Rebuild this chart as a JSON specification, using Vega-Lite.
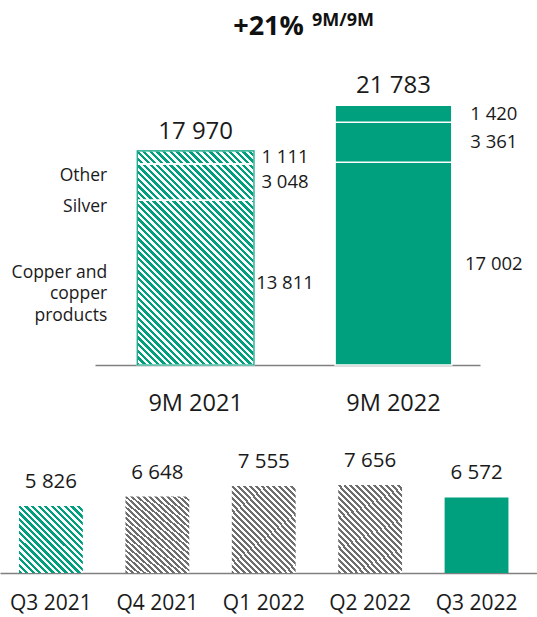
{
"$schema": "https://vega.github.io/schema/vega-lite/v6.json",
"padding": {"top": 12, "left": 0, "right": 0, "bottom": 8},
"background": "white",
"config": {
  "font": "Open Sans",
  "view": {"stroke": null},
  "locale": {"number": {"decimal": ",", "thousands": " ", "grouping": [3], "currency": ["", ""]}},
  "text": {"font": "Open Sans", "color": "#1a1a1a"},
  "axis": {"grid": false}
},
"title": {"text": "+21%", "fontSize": 27, "fontWeight": "bold", "font": "Open Sans", "color": "#111111", "anchor": "middle", "offset": 0, "dy": 29},
"spacing": 93,
"bounds": "flush",
"vconcat": [
{
  "width": 537, "height": 298,
  "title": {"text": "9M/9M", "fontSize": 18, "fontWeight": "bold", "font": "Open Sans", "color": "#111111", "anchor": "start", "frame": "group", "dx": 312, "offset": 37},
  "data": {"values": [
    {"period": "9M 2021", "seg": "Copper and copper products", "label": "Copper and\ncopper\nproducts", "order": 1, "value": 13811},
    {"period": "9M 2021", "seg": "Silver", "label": "Silver", "order": 2, "value": 3048},
    {"period": "9M 2021", "seg": "Other", "label": "Other", "order": 3, "value": 1111},
    {"period": "9M 2022", "seg": "Copper and copper products", "label": "Copper and\ncopper\nproducts", "order": 1, "value": 17002},
    {"period": "9M 2022", "seg": "Silver", "label": "Silver", "order": 2, "value": 3361},
    {"period": "9M 2022", "seg": "Other", "label": "Other", "order": 3, "value": 1420}
  ]},
  "transform": [
    {"stack": "value", "groupby": ["period"], "sort": [{"field": "order", "order": "ascending"}], "as": ["y0", "y1"]},
    {"calculate": "(datum.y0 + datum.y1) / 2", "as": "ymid"}
  ],
  "encoding": {
    "x": {"field": "period", "type": "nominal", "scale": {"domain": ["9M 2021", "9M 2022"], "range": [95, 480], "paddingInner": 0.41, "paddingOuter": 0.178, "align": 0.6},
      "axis": {"title": null, "labelAngle": 0, "ticks": false, "tickSize": 0, "labelPadding": 26, "labelFontSize": 23.5, "labelFont": "Open Sans", "labelColor": "#1a1a1a", "domainColor": "#808080", "domainWidth": 1.5}}
  },
  "layer": [
    {"transform": [{"filter": "datum.period === '9M 2021'"}, {"aggregate": [{"op": "sum", "field": "value", "as": "total"}], "groupby": ["period"]}],
     "mark": {"type": "bar", "fill": {"gradient": "linear", "x1": 0, "y1": 1, "x2": 0.649, "y2": -0.191, "stops": [
{"offset":0,"color":"#00a07f"},
{"offset":0.01,"color":"#00a07f"},{"offset":0.01,"color":"#fff"},
{"offset":0.02,"color":"#fff"},{"offset":0.02,"color":"#00a07f"},
{"offset":0.03,"color":"#00a07f"},{"offset":0.03,"color":"#fff"},
{"offset":0.04,"color":"#fff"},{"offset":0.04,"color":"#00a07f"},
{"offset":0.05,"color":"#00a07f"},{"offset":0.05,"color":"#fff"},
{"offset":0.06,"color":"#fff"},{"offset":0.06,"color":"#00a07f"},
{"offset":0.07,"color":"#00a07f"},{"offset":0.07,"color":"#fff"},
{"offset":0.08,"color":"#fff"},{"offset":0.08,"color":"#00a07f"},
{"offset":0.09,"color":"#00a07f"},{"offset":0.09,"color":"#fff"},
{"offset":0.1,"color":"#fff"},{"offset":0.1,"color":"#00a07f"},
{"offset":0.11,"color":"#00a07f"},{"offset":0.11,"color":"#fff"},
{"offset":0.12,"color":"#fff"},{"offset":0.12,"color":"#00a07f"},
{"offset":0.13,"color":"#00a07f"},{"offset":0.13,"color":"#fff"},
{"offset":0.14,"color":"#fff"},{"offset":0.14,"color":"#00a07f"},
{"offset":0.15,"color":"#00a07f"},{"offset":0.15,"color":"#fff"},
{"offset":0.16,"color":"#fff"},{"offset":0.16,"color":"#00a07f"},
{"offset":0.17,"color":"#00a07f"},{"offset":0.17,"color":"#fff"},
{"offset":0.18,"color":"#fff"},{"offset":0.18,"color":"#00a07f"},
{"offset":0.19,"color":"#00a07f"},{"offset":0.19,"color":"#fff"},
{"offset":0.2,"color":"#fff"},{"offset":0.2,"color":"#00a07f"},
{"offset":0.21,"color":"#00a07f"},{"offset":0.21,"color":"#fff"},
{"offset":0.22,"color":"#fff"},{"offset":0.22,"color":"#00a07f"},
{"offset":0.23,"color":"#00a07f"},{"offset":0.23,"color":"#fff"},
{"offset":0.24,"color":"#fff"},{"offset":0.24,"color":"#00a07f"},
{"offset":0.25,"color":"#00a07f"},{"offset":0.25,"color":"#fff"},
{"offset":0.26,"color":"#fff"},{"offset":0.26,"color":"#00a07f"},
{"offset":0.27,"color":"#00a07f"},{"offset":0.27,"color":"#fff"},
{"offset":0.28,"color":"#fff"},{"offset":0.28,"color":"#00a07f"},
{"offset":0.29,"color":"#00a07f"},{"offset":0.29,"color":"#fff"},
{"offset":0.3,"color":"#fff"},{"offset":0.3,"color":"#00a07f"},
{"offset":0.31,"color":"#00a07f"},{"offset":0.31,"color":"#fff"},
{"offset":0.32,"color":"#fff"},{"offset":0.32,"color":"#00a07f"},
{"offset":0.33,"color":"#00a07f"},{"offset":0.33,"color":"#fff"},
{"offset":0.34,"color":"#fff"},{"offset":0.34,"color":"#00a07f"},
{"offset":0.35,"color":"#00a07f"},{"offset":0.35,"color":"#fff"},
{"offset":0.36,"color":"#fff"},{"offset":0.36,"color":"#00a07f"},
{"offset":0.37,"color":"#00a07f"},{"offset":0.37,"color":"#fff"},
{"offset":0.38,"color":"#fff"},{"offset":0.38,"color":"#00a07f"},
{"offset":0.39,"color":"#00a07f"},{"offset":0.39,"color":"#fff"},
{"offset":0.4,"color":"#fff"},{"offset":0.4,"color":"#00a07f"},
{"offset":0.41,"color":"#00a07f"},{"offset":0.41,"color":"#fff"},
{"offset":0.42,"color":"#fff"},{"offset":0.42,"color":"#00a07f"},
{"offset":0.43,"color":"#00a07f"},{"offset":0.43,"color":"#fff"},
{"offset":0.44,"color":"#fff"},{"offset":0.44,"color":"#00a07f"},
{"offset":0.45,"color":"#00a07f"},{"offset":0.45,"color":"#fff"},
{"offset":0.46,"color":"#fff"},{"offset":0.46,"color":"#00a07f"},
{"offset":0.47,"color":"#00a07f"},{"offset":0.47,"color":"#fff"},
{"offset":0.48,"color":"#fff"},{"offset":0.48,"color":"#00a07f"},
{"offset":0.49,"color":"#00a07f"},{"offset":0.49,"color":"#fff"},
{"offset":0.5,"color":"#fff"},{"offset":0.5,"color":"#00a07f"},
{"offset":0.51,"color":"#00a07f"},{"offset":0.51,"color":"#fff"},
{"offset":0.52,"color":"#fff"},{"offset":0.52,"color":"#00a07f"},
{"offset":0.53,"color":"#00a07f"},{"offset":0.53,"color":"#fff"},
{"offset":0.54,"color":"#fff"},{"offset":0.54,"color":"#00a07f"},
{"offset":0.55,"color":"#00a07f"},{"offset":0.55,"color":"#fff"},
{"offset":0.56,"color":"#fff"},{"offset":0.56,"color":"#00a07f"},
{"offset":0.57,"color":"#00a07f"},{"offset":0.57,"color":"#fff"},
{"offset":0.58,"color":"#fff"},{"offset":0.58,"color":"#00a07f"},
{"offset":0.59,"color":"#00a07f"},{"offset":0.59,"color":"#fff"},
{"offset":0.6,"color":"#fff"},{"offset":0.6,"color":"#00a07f"},
{"offset":0.61,"color":"#00a07f"},{"offset":0.61,"color":"#fff"},
{"offset":0.62,"color":"#fff"},{"offset":0.62,"color":"#00a07f"},
{"offset":0.63,"color":"#00a07f"},{"offset":0.63,"color":"#fff"},
{"offset":0.64,"color":"#fff"},{"offset":0.64,"color":"#00a07f"},
{"offset":0.65,"color":"#00a07f"},{"offset":0.65,"color":"#fff"},
{"offset":0.66,"color":"#fff"},{"offset":0.66,"color":"#00a07f"},
{"offset":0.67,"color":"#00a07f"},{"offset":0.67,"color":"#fff"},
{"offset":0.68,"color":"#fff"},{"offset":0.68,"color":"#00a07f"},
{"offset":0.69,"color":"#00a07f"},{"offset":0.69,"color":"#fff"},
{"offset":0.7,"color":"#fff"},{"offset":0.7,"color":"#00a07f"},
{"offset":0.71,"color":"#00a07f"},{"offset":0.71,"color":"#fff"},
{"offset":0.72,"color":"#fff"},{"offset":0.72,"color":"#00a07f"},
{"offset":0.73,"color":"#00a07f"},{"offset":0.73,"color":"#fff"},
{"offset":0.74,"color":"#fff"},{"offset":0.74,"color":"#00a07f"},
{"offset":0.75,"color":"#00a07f"},{"offset":0.75,"color":"#fff"},
{"offset":0.76,"color":"#fff"},{"offset":0.76,"color":"#00a07f"},
{"offset":0.77,"color":"#00a07f"},{"offset":0.77,"color":"#fff"},
{"offset":0.78,"color":"#fff"},{"offset":0.78,"color":"#00a07f"},
{"offset":0.79,"color":"#00a07f"},{"offset":0.79,"color":"#fff"},
{"offset":0.8,"color":"#fff"},{"offset":0.8,"color":"#00a07f"},
{"offset":0.81,"color":"#00a07f"},{"offset":0.81,"color":"#fff"},
{"offset":0.82,"color":"#fff"},{"offset":0.82,"color":"#00a07f"},
{"offset":0.83,"color":"#00a07f"},{"offset":0.83,"color":"#fff"},
{"offset":0.84,"color":"#fff"},{"offset":0.84,"color":"#00a07f"},
{"offset":0.85,"color":"#00a07f"},{"offset":0.85,"color":"#fff"},
{"offset":0.86,"color":"#fff"},{"offset":0.86,"color":"#00a07f"},
{"offset":0.87,"color":"#00a07f"},{"offset":0.87,"color":"#fff"},
{"offset":0.88,"color":"#fff"},{"offset":0.88,"color":"#00a07f"},
{"offset":0.89,"color":"#00a07f"},{"offset":0.89,"color":"#fff"},
{"offset":0.9,"color":"#fff"},{"offset":0.9,"color":"#00a07f"},
{"offset":0.91,"color":"#00a07f"},{"offset":0.91,"color":"#fff"},
{"offset":0.92,"color":"#fff"},{"offset":0.92,"color":"#00a07f"},
{"offset":0.93,"color":"#00a07f"},{"offset":0.93,"color":"#fff"},
{"offset":0.94,"color":"#fff"},{"offset":0.94,"color":"#00a07f"},
{"offset":0.95,"color":"#00a07f"},{"offset":0.95,"color":"#fff"},
{"offset":0.96,"color":"#fff"},{"offset":0.96,"color":"#00a07f"},
{"offset":0.97,"color":"#00a07f"},{"offset":0.97,"color":"#fff"},
{"offset":0.98,"color":"#fff"},{"offset":0.98,"color":"#00a07f"},
{"offset":0.99,"color":"#00a07f"},{"offset":0.99,"color":"#fff"},
{"offset":1,"color":"#fff"}
     ]}},
     "encoding": {"y": {"field": "total", "type": "quantitative", "scale": {"domain": [0, 25000], "nice": false, "zero": true}, "axis": null}}},
    {"transform": [{"filter": "datum.period === '9M 2021'"}],
     "mark": {"type": "bar", "fill": "transparent", "stroke": "#ffffff", "strokeWidth": 1.5},
     "encoding": {"y": {"field": "y0", "type": "quantitative"}, "y2": {"field": "y1"}}},
    {"transform": [{"filter": "datum.period === '9M 2021'"}, {"aggregate": [{"op": "sum", "field": "value", "as": "total"}], "groupby": ["period"]}],
     "mark": {"type": "bar", "fill": "transparent", "stroke": "#00a07f", "strokeWidth": 1.2},
     "encoding": {"y": {"field": "total", "type": "quantitative"}}},
    {"transform": [{"filter": "datum.period === '9M 2022'"}],
     "mark": {"type": "bar", "fill": "#00a07f", "stroke": "#ffffff", "strokeWidth": 1.5},
     "encoding": {"y": {"field": "y0", "type": "quantitative"}, "y2": {"field": "y1"}}},
    {"transform": [{"filter": "datum.period === '9M 2021'"}],
     "mark": {"type": "text", "align": "center", "baseline": "middle", "dx": 31, "fontSize": 18.5},
     "encoding": {
       "x": {"field": "period", "type": "nominal", "bandPosition": 1},
       "y": {"field": "ymid", "type": "quantitative"},
       "text": {"field": "value", "type": "quantitative", "format": ",d"}}},
    {"transform": [{"filter": "datum.period === '9M 2022'"}],
     "mark": {"type": "text", "align": "center", "baseline": "middle", "dx": 42, "fontSize": 18.5},
     "encoding": {
       "x": {"field": "period", "type": "nominal", "bandPosition": 1},
       "y": {"field": "ymid", "type": "quantitative"},
       "text": {"field": "value", "type": "quantitative", "format": ",d"}}},
    {"transform": [{"aggregate": [{"op": "sum", "field": "value", "as": "total"}], "groupby": ["period"]}],
     "mark": {"type": "text", "align": "center", "baseline": "alphabetic", "dy": -12, "fontSize": 24},
     "encoding": {
       "y": {"field": "total", "type": "quantitative"},
       "text": {"field": "total", "type": "quantitative", "format": ",d"}}},
    {"transform": [{"filter": "datum.period === '9M 2021' && datum.order === 3"}],
     "mark": {"type": "text", "align": "right", "baseline": "middle", "dx": -30, "dy": 18.5, "fontSize": 17.5},
     "encoding": {
       "x": {"field": "period", "type": "nominal", "bandPosition": 0},
       "y": {"field": "ymid", "type": "quantitative"},
       "text": {"field": "label", "type": "nominal"}}},
    {"transform": [{"filter": "datum.period === '9M 2021' && datum.order === 2"}],
     "mark": {"type": "text", "align": "right", "baseline": "middle", "dx": -30, "dy": 25, "fontSize": 17.5},
     "encoding": {
       "x": {"field": "period", "type": "nominal", "bandPosition": 0},
       "y": {"field": "ymid", "type": "quantitative"},
       "text": {"field": "label", "type": "nominal"}}},
    {"transform": [{"filter": "datum.period === '9M 2021' && datum.order === 1"}],
     "mark": {"type": "text", "align": "right", "baseline": "middle", "dx": -30, "dy": -10, "fontSize": 17.5, "lineBreak": "\n", "lineHeight": 21.5},
     "encoding": {
       "x": {"field": "period", "type": "nominal", "bandPosition": 0},
       "y": {"field": "ymid", "type": "quantitative"},
       "text": {"field": "label", "type": "nominal"}}}
  ]
},
{
  "width": 537, "height": 115,
  "data": {"values": [
    {"quarter": "Q3 2021", "value": 5826},
    {"quarter": "Q4 2021", "value": 6648},
    {"quarter": "Q1 2022", "value": 7555},
    {"quarter": "Q2 2022", "value": 7656},
    {"quarter": "Q3 2022", "value": 6572}
  ]},
  "encoding": {
    "x": {"field": "quarter", "type": "nominal", "scale": {"domain": ["Q3 2021", "Q4 2021", "Q1 2022", "Q2 2022", "Q3 2022"], "paddingInner": 0.4, "paddingOuter": 0.2235, "align": 0.4},
      "axis": {"title": null, "labelAngle": 0, "ticks": false, "tickSize": 0, "labelPadding": 19, "labelFontSize": 21, "labelFont": "Open Sans", "labelColor": "#1a1a1a", "domainColor": "#808080", "domainWidth": 1.5}},
    "y": {"field": "value", "type": "quantitative", "scale": {"domain": [0, 10000], "nice": false}, "axis": null}
  },
  "layer": [
    {"transform": [{"filter": "datum.quarter === 'Q3 2021'"}],
     "mark": {"type": "bar", "fill": {"gradient": "linear", "x1": 0, "y1": 1, "x2": 0.975, "y2": -0.024, "stops": [
{"offset":0,"color":"#00a07f"},
{"offset":0.025,"color":"#00a07f"},{"offset":0.025,"color":"#fff"},
{"offset":0.05,"color":"#fff"},{"offset":0.05,"color":"#00a07f"},
{"offset":0.075,"color":"#00a07f"},{"offset":0.075,"color":"#fff"},
{"offset":0.1,"color":"#fff"},{"offset":0.1,"color":"#00a07f"},
{"offset":0.125,"color":"#00a07f"},{"offset":0.125,"color":"#fff"},
{"offset":0.15,"color":"#fff"},{"offset":0.15,"color":"#00a07f"},
{"offset":0.175,"color":"#00a07f"},{"offset":0.175,"color":"#fff"},
{"offset":0.2,"color":"#fff"},{"offset":0.2,"color":"#00a07f"},
{"offset":0.225,"color":"#00a07f"},{"offset":0.225,"color":"#fff"},
{"offset":0.25,"color":"#fff"},{"offset":0.25,"color":"#00a07f"},
{"offset":0.275,"color":"#00a07f"},{"offset":0.275,"color":"#fff"},
{"offset":0.3,"color":"#fff"},{"offset":0.3,"color":"#00a07f"},
{"offset":0.325,"color":"#00a07f"},{"offset":0.325,"color":"#fff"},
{"offset":0.35,"color":"#fff"},{"offset":0.35,"color":"#00a07f"},
{"offset":0.375,"color":"#00a07f"},{"offset":0.375,"color":"#fff"},
{"offset":0.4,"color":"#fff"},{"offset":0.4,"color":"#00a07f"},
{"offset":0.425,"color":"#00a07f"},{"offset":0.425,"color":"#fff"},
{"offset":0.45,"color":"#fff"},{"offset":0.45,"color":"#00a07f"},
{"offset":0.475,"color":"#00a07f"},{"offset":0.475,"color":"#fff"},
{"offset":0.5,"color":"#fff"},{"offset":0.5,"color":"#00a07f"},
{"offset":0.525,"color":"#00a07f"},{"offset":0.525,"color":"#fff"},
{"offset":0.55,"color":"#fff"},{"offset":0.55,"color":"#00a07f"},
{"offset":0.575,"color":"#00a07f"},{"offset":0.575,"color":"#fff"},
{"offset":0.6,"color":"#fff"},{"offset":0.6,"color":"#00a07f"},
{"offset":0.625,"color":"#00a07f"},{"offset":0.625,"color":"#fff"},
{"offset":0.65,"color":"#fff"},{"offset":0.65,"color":"#00a07f"},
{"offset":0.675,"color":"#00a07f"},{"offset":0.675,"color":"#fff"},
{"offset":0.7,"color":"#fff"},{"offset":0.7,"color":"#00a07f"},
{"offset":0.725,"color":"#00a07f"},{"offset":0.725,"color":"#fff"},
{"offset":0.75,"color":"#fff"},{"offset":0.75,"color":"#00a07f"},
{"offset":0.775,"color":"#00a07f"},{"offset":0.775,"color":"#fff"},
{"offset":0.8,"color":"#fff"},{"offset":0.8,"color":"#00a07f"},
{"offset":0.825,"color":"#00a07f"},{"offset":0.825,"color":"#fff"},
{"offset":0.85,"color":"#fff"},{"offset":0.85,"color":"#00a07f"},
{"offset":0.875,"color":"#00a07f"},{"offset":0.875,"color":"#fff"},
{"offset":0.9,"color":"#fff"},{"offset":0.9,"color":"#00a07f"},
{"offset":0.925,"color":"#00a07f"},{"offset":0.925,"color":"#fff"},
{"offset":0.95,"color":"#fff"},{"offset":0.95,"color":"#00a07f"},
{"offset":0.975,"color":"#00a07f"},{"offset":0.975,"color":"#fff"},
{"offset":1,"color":"#fff"}
     ]}}},
    {"transform": [{"filter": "datum.quarter !== 'Q3 2021' && datum.quarter !== 'Q3 2022'"}],
     "mark": {"type": "bar", "fill": {"gradient": "linear", "x1": 0, "y1": 1, "x2": 0.849, "y2": -0.115, "stops": [
{"offset":0,"color":"#6e6e6e"},
{"offset":0.02,"color":"#6e6e6e"},{"offset":0.02,"color":"#fff"},
{"offset":0.04,"color":"#fff"},{"offset":0.04,"color":"#6e6e6e"},
{"offset":0.06,"color":"#6e6e6e"},{"offset":0.06,"color":"#fff"},
{"offset":0.08,"color":"#fff"},{"offset":0.08,"color":"#6e6e6e"},
{"offset":0.1,"color":"#6e6e6e"},{"offset":0.1,"color":"#fff"},
{"offset":0.12,"color":"#fff"},{"offset":0.12,"color":"#6e6e6e"},
{"offset":0.14,"color":"#6e6e6e"},{"offset":0.14,"color":"#fff"},
{"offset":0.16,"color":"#fff"},{"offset":0.16,"color":"#6e6e6e"},
{"offset":0.18,"color":"#6e6e6e"},{"offset":0.18,"color":"#fff"},
{"offset":0.2,"color":"#fff"},{"offset":0.2,"color":"#6e6e6e"},
{"offset":0.22,"color":"#6e6e6e"},{"offset":0.22,"color":"#fff"},
{"offset":0.24,"color":"#fff"},{"offset":0.24,"color":"#6e6e6e"},
{"offset":0.26,"color":"#6e6e6e"},{"offset":0.26,"color":"#fff"},
{"offset":0.28,"color":"#fff"},{"offset":0.28,"color":"#6e6e6e"},
{"offset":0.3,"color":"#6e6e6e"},{"offset":0.3,"color":"#fff"},
{"offset":0.32,"color":"#fff"},{"offset":0.32,"color":"#6e6e6e"},
{"offset":0.34,"color":"#6e6e6e"},{"offset":0.34,"color":"#fff"},
{"offset":0.36,"color":"#fff"},{"offset":0.36,"color":"#6e6e6e"},
{"offset":0.38,"color":"#6e6e6e"},{"offset":0.38,"color":"#fff"},
{"offset":0.4,"color":"#fff"},{"offset":0.4,"color":"#6e6e6e"},
{"offset":0.42,"color":"#6e6e6e"},{"offset":0.42,"color":"#fff"},
{"offset":0.44,"color":"#fff"},{"offset":0.44,"color":"#6e6e6e"},
{"offset":0.46,"color":"#6e6e6e"},{"offset":0.46,"color":"#fff"},
{"offset":0.48,"color":"#fff"},{"offset":0.48,"color":"#6e6e6e"},
{"offset":0.5,"color":"#6e6e6e"},{"offset":0.5,"color":"#fff"},
{"offset":0.52,"color":"#fff"},{"offset":0.52,"color":"#6e6e6e"},
{"offset":0.54,"color":"#6e6e6e"},{"offset":0.54,"color":"#fff"},
{"offset":0.56,"color":"#fff"},{"offset":0.56,"color":"#6e6e6e"},
{"offset":0.58,"color":"#6e6e6e"},{"offset":0.58,"color":"#fff"},
{"offset":0.6,"color":"#fff"},{"offset":0.6,"color":"#6e6e6e"},
{"offset":0.62,"color":"#6e6e6e"},{"offset":0.62,"color":"#fff"},
{"offset":0.64,"color":"#fff"},{"offset":0.64,"color":"#6e6e6e"},
{"offset":0.66,"color":"#6e6e6e"},{"offset":0.66,"color":"#fff"},
{"offset":0.68,"color":"#fff"},{"offset":0.68,"color":"#6e6e6e"},
{"offset":0.7,"color":"#6e6e6e"},{"offset":0.7,"color":"#fff"},
{"offset":0.72,"color":"#fff"},{"offset":0.72,"color":"#6e6e6e"},
{"offset":0.74,"color":"#6e6e6e"},{"offset":0.74,"color":"#fff"},
{"offset":0.76,"color":"#fff"},{"offset":0.76,"color":"#6e6e6e"},
{"offset":0.78,"color":"#6e6e6e"},{"offset":0.78,"color":"#fff"},
{"offset":0.8,"color":"#fff"},{"offset":0.8,"color":"#6e6e6e"},
{"offset":0.82,"color":"#6e6e6e"},{"offset":0.82,"color":"#fff"},
{"offset":0.84,"color":"#fff"},{"offset":0.84,"color":"#6e6e6e"},
{"offset":0.86,"color":"#6e6e6e"},{"offset":0.86,"color":"#fff"},
{"offset":0.88,"color":"#fff"},{"offset":0.88,"color":"#6e6e6e"},
{"offset":0.9,"color":"#6e6e6e"},{"offset":0.9,"color":"#fff"},
{"offset":0.92,"color":"#fff"},{"offset":0.92,"color":"#6e6e6e"},
{"offset":0.94,"color":"#6e6e6e"},{"offset":0.94,"color":"#fff"},
{"offset":0.96,"color":"#fff"},{"offset":0.96,"color":"#6e6e6e"},
{"offset":0.98,"color":"#6e6e6e"},{"offset":0.98,"color":"#fff"},
{"offset":1,"color":"#fff"}
     ]}}},
    {"transform": [{"filter": "datum.quarter === 'Q3 2022'"}],
     "mark": {"type": "bar", "fill": "#00a07f"}},
    {"mark": {"type": "text", "align": "center", "baseline": "alphabetic", "dy": -18, "fontSize": 20.5},
     "encoding": {"text": {"field": "value", "type": "quantitative", "format": ",d"}}}
  ]
}
]
}
